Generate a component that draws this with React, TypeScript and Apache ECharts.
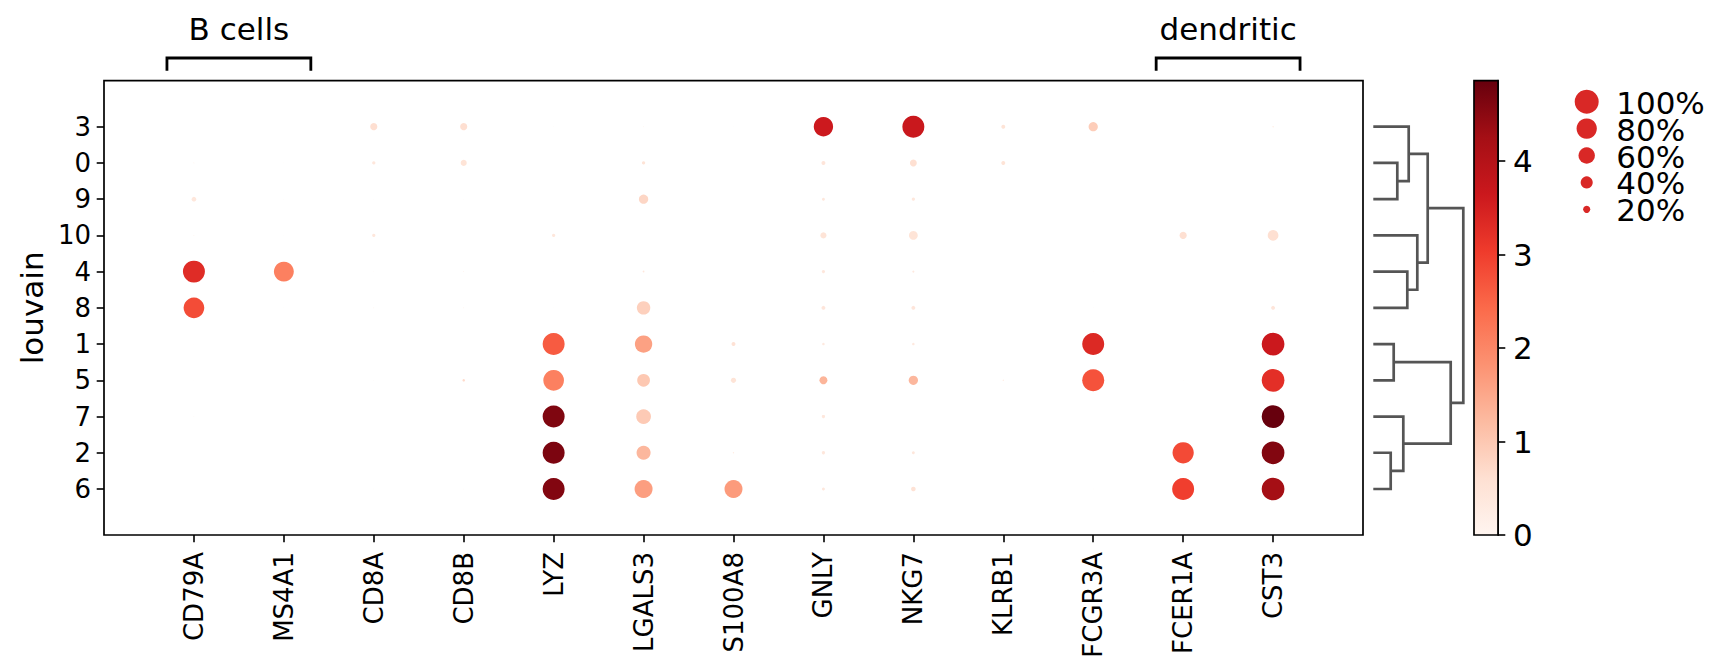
import React, { useEffect, useRef } from "react";
import * as echarts from "echarts";

// ---------- data ----------
const rows = ["3", "0", "9", "10", "4", "8", "1", "5", "7", "2", "6"];
const genes = ["CD79A", "MS4A1", "CD8A", "CD8B", "LYZ", "LGALS3", "S100A8", "GNLY", "NKG7", "KLRB1", "FCGR3A", "FCER1A", "CST3"];

// fraction of cells expressing (row order as in `rows`)
const fracCD79A = [0, 0.01, 0.11, 0.01, 0.89, 0.82, 0.003, 0.003, 0.006, 0, 0];
const fracMS4A1 = [0, 0.004, 0.004, 0.004, 0.78, 0.004, 0, 0, 0, 0, 0];
const fracCD8A = [0.2, 0.07, 0.005, 0.07, 0.005, 0.01, 0, 0.005, 0, 0, 0.005];
const fracCD8B = [0.2, 0.16, 0.005, 0, 0.01, 0.01, 0, 0.05, 0, 0, 0.005];
const fracLYZ = [0.004, 0, 0, 0.07, 0.004, 0.004, 0.89, 0.82, 0.89, 0.89, 0.89];
const fracLGALS3 = [0.01, 0.07, 0.28, 0, 0.03, 0.46, 0.65, 0.43, 0.52, 0.49, 0.68];
const fracS100A8 = [0.003, 0, 0, 0, 0, 0, 0.09, 0.13, 0, 0.02, 0.68];
const fracGNLY = [0.75, 0.09, 0.06, 0.16, 0.07, 0.09, 0.05, 0.23, 0.07, 0.07, 0.06];
const fracNKG7 = [0.89, 0.19, 0.07, 0.26, 0.04, 0.09, 0.05, 0.28, 0, 0.06, 0.11];
const fracKLRB1 = [0.09, 0.09, 0, 0, 0, 0, 0, 0.02, 0, 0, 0];
const fracFCGR3A = [0.28, 0.003, 0, 0, 0.005, 0.005, 0.89, 0.89, 0, 0, 0.005];
const fracFCER1A = [0, 0, 0, 0.2, 0, 0, 0, 0.004, 0, 0.85, 0.89];
const fracCST3 = [0.02, 0.004, 0, 0.34, 0.005, 0.09, 0.93, 0.93, 0.93, 0.93, 0.93];

// mean expression in group (row order as in `rows`)
const exprCD79A = [0, 0.3, 0.4, 0.2, 3.3, 2.82, 0.3, 0.3, 0.4, 0, 0];
const exprMS4A1 = [0, 0.2, 0.2, 0.2, 2.1, 0.2, 0, 0, 0, 0, 0];
const exprCD8A = [0.62, 0.4, 0.2, 0.4, 0.2, 0.2, 0, 0.2, 0, 0, 0.2];
const exprCD8B = [0.62, 0.5, 0.2, 0, 0.3, 0.3, 0, 0.7, 0, 0, 0.3];
const exprLYZ = [0.2, 0, 0, 0.4, 0.2, 0.2, 2.62, 2.1, 4.62, 4.65, 4.6];
const exprLGALS3 = [0.2, 0.5, 0.77, 0, 0.4, 0.87, 1.6, 1.0, 0.97, 1.27, 1.64];
const exprS100A8 = [0.2, 0, 0, 0, 0, 0, 0.55, 0.5, 0, 0.3, 1.69];
const exprGNLY = [3.62, 0.45, 0.4, 0.5, 0.4, 0.45, 0.35, 1.31, 0.4, 0.4, 0.4];
const exprNKG7 = [3.67, 0.6, 0.4, 0.5, 0.35, 0.45, 0.35, 1.27, 0, 0.4, 0.55];
const exprKLRB1 = [0.5, 0.5, 0, 0, 0, 0, 0, 0.3, 0, 0, 0];
const exprFCGR3A = [0.92, 0.2, 0, 0, 0.2, 0.2, 3.35, 2.74, 0, 0, 0.2];
const exprFCER1A = [0, 0, 0, 0.6, 0, 0, 0, 0.2, 0, 2.84, 3.0];
const exprCST3 = [0.3, 0.2, 0, 0.6, 0.2, 0.45, 3.65, 3.24, 4.86, 4.6, 4.25];

const fractions = [fracCD79A, fracMS4A1, fracCD8A, fracCD8B, fracLYZ, fracLGALS3, fracS100A8, fracGNLY, fracNKG7, fracKLRB1, fracFCGR3A, fracFCER1A, fracCST3];
const expressions = [exprCD79A, exprMS4A1, exprCD8A, exprCD8B, exprLYZ, exprLGALS3, exprS100A8, exprGNLY, exprNKG7, exprKLRB1, exprFCGR3A, exprFCER1A, exprCST3];

const geneGroupLabels = ["B cells", "dendritic"];
const geneGroupStart = [0, 11];
const geneGroupEnd = [1, 12];

const sizeLegendFractions = [1.0, 0.8, 0.6, 0.4, 0.2];
const colorbarTicks = [0, 1, 2, 3, 4];

// dendrogram: [left child, right child, merge height]; Lk = k-th link
const dendroLinks: [string, string, number][] = [
  ["0", "9", 24],
  ["3", "L0", 35.4],
  ["4", "8", 34],
  ["10", "L2", 44],
  ["L1", "L3", 54.4],
  ["1", "5", 20.4],
  ["2", "6", 17.4],
  ["7", "L6", 30],
  ["L5", "L7", 77.4],
  ["L4", "L8", 90],
];

// ---------- styling helpers ----------
const reds = ["#fff5f0", "#fee0d2", "#fcbba1", "#fc9272", "#fb6a4a", "#ef3b2c", "#cb181d", "#a50f15", "#67000d"];
const FONT = "DejaVu Sans";
const TICK_FS = 26;
const BIG_FS = 31;
const MAX_DOT = 24;
const dotSize = (f: number) => MAX_DOT * Math.pow(f, 0.75);

export default function App() {
  const ref = useRef<HTMLDivElement>(null);

  useEffect(() => {
    if (!ref.current) return;
    const chart = echarts.init(ref.current, null, { renderer: "svg" });

    const points: number[][] = [];
    genes.forEach((_, gi) => {
      rows.forEach((_, ri) => {
        const f = fractions[gi][ri];
        if (f > 0) points.push([gi, ri, expressions[gi][ri], f]);
      });
    });
    const cmax = Math.max(...expressions.map((a) => Math.max(...a)));

    const nodes: Record<string, { y: number; h: number }> = {};
    rows.forEach((r, i) => (nodes[r] = { y: i, h: 0 }));
    const dendroPaths = dendroLinks.map(([a, b, h], k) => {
      const A = nodes[a];
      const B = nodes[b];
      nodes["L" + k] = { y: (A.y + B.y) / 2, h };
      return { coords: [[A.h, A.y], [h, A.y], [h, B.y], [B.h, B.y]] };
    });

    const rowIdx = rows.map((_, i) => i);
    const colIdx = genes.map((_, i) => i);
    const yMin = -1.27;
    const yMax = rows.length - 1 + 1.27;

    const top = 80.7;
    const plotH = 454.3;

    const option: any = {
      animation: false,
      textStyle: { fontFamily: FONT, color: "#000" },
      grid: [
        { left: 104, top, width: 1259, height: plotH, show: true, borderColor: "#000", borderWidth: 1.7, backgroundColor: "transparent" },
        { left: 1373.3, top, width: 100, height: plotH },
        { left: 1474, top, width: 24, height: plotH, show: true, borderColor: "#000", borderWidth: 1.7, z: 5, backgroundColor: "transparent" },
        { left: 104, top: 58, width: 1259, height: 12.7 },
        { left: 1576.7, top: 101.7, width: 20, height: 107.6 },
      ],
      xAxis: [
        {
          gridIndex: 0, type: "value", min: -1, max: genes.length,
          axisLine: { show: false, onZero: false }, splitLine: { show: false },
          axisTick: { show: true, length: 7.3, lineStyle: { color: "#000", width: 1.6 }, customValues: colIdx },
          axisLabel: {
            customValues: colIdx, rotate: 90, margin: 17, fontSize: TICK_FS, color: "#000", fontFamily: FONT,
            formatter: (v: number) => genes[Math.round(v)] ?? "",
          },
        },
        { gridIndex: 1, type: "value", min: 0, max: 100, show: false },
        { gridIndex: 2, type: "category", data: [""], show: false },
        { gridIndex: 3, type: "value", min: -1, max: genes.length, show: false },
        { gridIndex: 4, type: "value", min: -1, max: 1, show: false },
      ],
      yAxis: [
        {
          gridIndex: 0, type: "value", min: yMin, max: yMax, inverse: true,
          name: "louvain", nameLocation: "middle", nameGap: 56, nameRotate: 90,
          nameTextStyle: { fontSize: BIG_FS, color: "#000", fontFamily: FONT },
          axisLine: { show: false, onZero: false }, splitLine: { show: false },
          axisTick: { show: true, length: 7.3, lineStyle: { color: "#000", width: 1.6 }, customValues: rowIdx },
          axisLabel: {
            customValues: rowIdx, margin: 13, fontSize: TICK_FS, color: "#000", fontFamily: FONT,
            formatter: (v: number) => rows[Math.round(v)] ?? "",
          },
        },
        { gridIndex: 1, type: "value", min: yMin, max: yMax, inverse: true, show: false },
        {
          gridIndex: 2, type: "value", min: 0, max: cmax, position: "right",
          axisLine: { show: true, onZero: false, lineStyle: { color: "#000", width: 1.7 } },
          splitLine: { show: false },
          axisTick: { show: true, length: 7.3, lineStyle: { color: "#000", width: 1.6 }, customValues: colorbarTicks },
          axisLabel: { customValues: colorbarTicks, margin: 15, fontSize: BIG_FS, color: "#000", fontFamily: FONT },
        },
        { gridIndex: 3, type: "value", min: 0, max: 1, show: false },
        { gridIndex: 4, type: "value", min: 0, max: sizeLegendFractions.length - 1, inverse: true, show: false },
      ],
      visualMap: {
        type: "continuous", show: false, seriesIndex: 0, dimension: 2,
        min: 0, max: cmax, inRange: { color: reds },
      },
      series: [
        {
          type: "scatter", xAxisIndex: 0, yAxisIndex: 0, data: points,
          symbol: "circle", symbolSize: (v: number[]) => dotSize(v[3]),
          itemStyle: { opacity: 1, borderWidth: 0 }, silent: true,
        },
        {
          type: "lines", coordinateSystem: "cartesian2d", xAxisIndex: 1, yAxisIndex: 1,
          polyline: true, data: dendroPaths, silent: true,
          lineStyle: { color: "#555555", width: 2.7, opacity: 1 },
        },
        {
          type: "bar", xAxisIndex: 2, yAxisIndex: 2, data: [cmax], barWidth: "100%", silent: true,
          itemStyle: {
            opacity: 1,
            color: new echarts.graphic.LinearGradient(0, 1, 0, 0, reds.map((c, i) => ({ offset: i / (reds.length - 1), color: c }))),
          },
        },
        {
          type: "lines", coordinateSystem: "cartesian2d", xAxisIndex: 3, yAxisIndex: 3, polyline: true, silent: true,
          clip: false,
          data: geneGroupLabels.map((_, i) => ({
            coords: [
              [geneGroupStart[i] - 0.3, 0], [geneGroupStart[i] - 0.3, 1],
              [geneGroupEnd[i] + 0.3, 1], [geneGroupEnd[i] + 0.3, 0],
            ],
          })),
          lineStyle: { color: "#000", width: 2.8, opacity: 1 },
        },
        {
          type: "scatter", xAxisIndex: 3, yAxisIndex: 3, silent: true, clip: false,
          data: geneGroupLabels.map((name, i) => ({ value: [(geneGroupStart[i] + geneGroupEnd[i]) / 2, 1], name })),
          symbolSize: 1, itemStyle: { color: "transparent", opacity: 1 },
          label: {
            show: true, position: "inside", offset: [0, -29], formatter: (p: any) => p.name,
            fontSize: BIG_FS, color: "#000", fontFamily: FONT,
          },
        },
        {
          type: "scatter", xAxisIndex: 4, yAxisIndex: 4, silent: true, clip: false,
          data: sizeLegendFractions.map((f, i) => [0, i, f]),
          symbolSize: (v: number[]) => dotSize(v[2]),
          itemStyle: { color: "#d92826", opacity: 1 },
          label: {
            show: true, position: "inside", align: "left", offset: [29.5, 1], lineHeight: 26,
            formatter: (p: any) => `${Math.round(p.value[2] * 100)}%`,
            fontSize: BIG_FS, color: "#000", fontFamily: FONT,
          },
        },
      ],
    };

    chart.setOption(option);
    return () => chart.dispose();
  }, []);

  return (
    <div
      ref={ref}
      style={{ position: "fixed", left: 0, top: 0, width: 1722, height: 672, background: "#fff" }}
    />
  );
}
